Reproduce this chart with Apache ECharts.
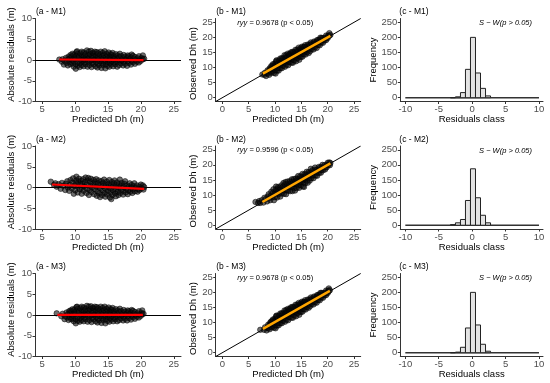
<!DOCTYPE html>
<html><head><meta charset="utf-8">
<script src="https://cdn.jsdelivr.net/npm/echarts@6/dist/echarts.min.js"></script>
<style>html,body{margin:0;padding:0;background:#fff}#c{width:550px;height:383px}</style>
</head><body><div id="c"></div>
<script>
// ---------- data ----------
const models = ['M1', 'M2', 'M3'];
const ryyValues = ['0.9678', '0.9596', '0.9678'];
const xTicksA = [5, 10, 15, 20, 25];
const yTicksA = [-10, -5, 0, 5, 10];
const ticksB = [0, 5, 10, 15, 20, 25];
const xTicksC = [-10, -5, 0, 5, 10];
const yTicksC = [0, 50, 100, 150, 200, 250];
const binCenters = [-2.875, -2.125, -1.375, -0.625, 0.125, 0.875, 1.625, 2.375];
const binWidth = 0.75;
const countsM1 = [0, 3, 17, 94, 200, 82, 31, 6];
const countsM2 = [2, 8, 19, 82, 187, 91, 33, 8];
const countsM3 = [0, 2, 18, 82, 200, 92, 28, 5];
const histRange = [-10, 10];
const redFitM1 = [[7.6, 0.12], [20.4, -0.05]];
const redFitM2 = [[6.5, 0.72], [20.5, -0.35]];
const redFitM3 = [[7.3, 0.02], [20.3, 0.02]];
const orangeFitM1 = [[7.7, 8.0], [20.5, 20.5]];
const orangeFitM2 = [[7.6, 7.7], [20.5, 20.5]];
const orangeFitM3 = [[7.7, 7.9], [20.4, 20.5]];
// [predicted Dh, residual]  (observed = predicted + residual)
const ptsM1 = [
[7.6,0.1],[8.0,-0.4],[8.1,0.2],[8.3,-1.1],[8.4,-0.2],[8.6,0.5],[8.7,-0.7],[8.9,-1.3],[8.9,0.1],[9.0,0.8],
[9.2,-0.5],[9.2,0.4],[9.3,1.2],[9.3,-1.0],[9.5,0.0],[9.6,-0.8],[9.5,0.9],[9.6,1.5],[9.8,-1.6],[9.8,-0.3],
[9.9,0.6],[9.9,1.3],[10.1,-2.1],[10.1,-1.0],[10.0,0.2],[10.2,1.0],[10.2,1.9],[10.4,-1.4],[10.4,-0.5],[10.5,0.5],
[10.4,1.5],[10.3,2.1],[10.7,-1.7],[10.7,-0.8],[10.8,0.0],[10.6,0.8],[10.8,1.6],[11.0,-1.2],[11.1,-0.3],[11.0,0.4],
[11.1,1.2],[11.0,2.0],[11.3,-1.5],[11.4,-0.6],[11.3,0.2],[11.4,1.0],[11.3,1.8],[11.6,-1.0],[11.6,0.0],[11.7,0.7],
[11.6,1.5],[11.8,2.3],[11.9,-1.6],[12.0,-0.4],[11.9,0.3],[12.0,1.1],[12.1,2.0],[12.2,-1.2],[12.3,-0.2],[12.2,0.6],
[12.3,1.4],[12.4,2.2],[12.5,-1.7],[12.6,-0.7],[12.5,0.1],[12.6,0.9],[12.7,1.7],[12.8,-1.0],[12.9,0.0],[12.8,0.8],
[12.9,1.5],[13.0,2.0],[13.1,-1.5],[13.2,-0.5],[13.1,0.3],[13.2,1.1],[13.3,1.9],[13.4,-1.8],[13.5,-0.9],[13.4,0.0],
[13.5,0.7],[13.5,1.6],[13.7,-1.3],[13.8,-0.3],[13.7,0.5],[13.8,1.3],[13.9,2.0],[14.0,-1.9],[14.1,-0.8],[14.0,0.1],
[14.1,0.9],[14.2,1.7],[14.3,-1.2],[14.4,-0.4],[14.3,0.4],[14.4,1.2],[14.5,2.1],[14.6,-2.0],[14.7,-1.0],[14.6,-0.1],
[14.7,0.7],[14.8,1.5],[14.9,-1.4],[15.0,-0.5],[14.9,0.3],[15.0,1.1],[15.1,1.8],[15.2,-1.6],[15.3,-0.7],[15.2,0.0],
[15.3,0.8],[15.4,1.4],[15.5,-1.1],[15.6,-0.3],[15.5,0.5],[15.6,1.2],[15.7,1.7],[15.8,-1.5],[15.9,-0.6],[15.8,0.2],
[15.9,0.9],[16.1,-1.0],[16.2,-0.2],[16.1,0.6],[16.2,1.4],[16.4,-1.6],[16.5,-0.5],[16.4,0.3],[16.5,1.1],[16.7,-1.2],
[16.8,-0.1],[16.7,0.7],[16.8,1.5],[17.0,-0.8],[17.1,0.0],[17.0,0.9],[17.3,-1.3],[17.4,-0.4],[17.3,0.4],[17.4,1.2],
[17.6,-0.9],[17.7,0.1],[17.6,0.8],[17.9,-1.4],[18.0,-0.3],[17.9,0.5],[18.0,1.1],[18.2,-0.7],[18.3,0.2],[18.2,0.9],
[18.5,-1.1],[18.6,-0.2],[18.5,0.6],[18.6,1.3],[18.8,-0.5],[18.9,0.3],[18.8,1.0],[19.1,-0.9],[19.2,0.0],[19.1,0.7],
[19.4,-0.4],[19.5,0.4],[19.7,-0.6],[19.8,0.1],[19.7,0.9],[20.0,-0.2],[20.1,0.5],[20.3,0.2],[20.3,1.1],[20.5,0.3]
];
const ptsM2 = [
[6.3,1.4],[6.8,0.6],[7.0,1.0],[7.2,0.2],[7.5,0.8],[7.8,-0.3],[8.0,1.1],[8.2,0.4],[8.5,-0.6],[8.6,0.9],
[8.8,1.5],[8.9,0.0],[9.1,-0.8],[9.2,0.6],[9.3,1.8],[9.5,-0.2],[9.6,1.2],[9.7,2.2],[9.8,-1.5],[9.9,0.4],
[10.0,-0.7],[10.1,1.0],[10.2,2.6],[10.2,1.7],[10.4,-1.2],[10.4,0.2],[10.5,1.3],[10.6,2.1],[10.7,-0.4],[10.8,0.7],
[10.9,1.6],[11.0,-1.5],[11.0,-0.1],[11.1,0.9],[11.2,2.0],[11.3,-0.8],[11.4,0.3],[11.5,1.3],[11.6,2.4],[11.7,-1.3],
[11.8,-0.3],[11.8,0.8],[11.9,1.7],[12.0,2.3],[12.1,-1.8],[12.2,-0.6],[12.3,0.4],[12.3,1.4],[12.4,2.1],[12.5,-1.1],
[12.6,0.0],[12.7,0.9],[12.8,1.8],[12.9,-1.6],[13.0,-0.4],[13.0,0.5],[13.1,1.3],[13.2,2.0],[13.3,-2.0],[13.4,-0.9],
[13.4,0.2],[13.5,1.0],[13.6,1.7],[13.7,-1.4],[13.8,-2.3],[13.8,-0.2],[13.9,0.7],[14.0,1.5],[14.1,-1.8],[14.2,-0.7],
[14.2,0.3],[14.3,1.1],[14.4,1.9],[14.5,-1.3],[14.6,-2.2],[14.6,-0.3],[14.7,0.6],[14.8,1.4],[14.9,-1.7],[15.0,-0.8],
[15.0,0.1],[15.1,0.9],[15.2,1.8],[15.3,-2.4],[15.4,-1.2],[15.4,-0.3],[15.5,-2.8],[15.5,0.5],[15.6,1.3],[15.7,-1.8],
[15.8,-0.7],[15.8,0.2],[15.9,1.0],[16.0,1.7],[16.1,-1.4],[16.2,-2.1],[16.2,-0.4],[16.3,0.5],[16.4,1.2],[16.5,-1.0],
[16.6,-1.8],[16.6,0.0],[16.7,0.8],[16.8,1.9],[16.9,-1.3],[17.0,-0.5],[17.0,0.4],[17.1,1.1],[17.3,-1.7],[17.3,-0.8],
[17.4,0.1],[17.5,0.9],[17.6,1.5],[17.7,-1.2],[17.8,-0.3],[17.9,0.5],[18.0,-1.6],[18.1,-0.7],[18.2,0.2],[18.3,1.0],
[18.4,-1.0],[18.5,-0.1],[18.6,0.6],[18.7,-1.3],[18.8,-0.5],[18.9,0.3],[19.0,1.0],[19.1,-0.9],[19.2,-0.1],[19.4,0.5],
[19.5,-1.0],[19.6,-0.4],[19.8,0.2],[19.8,-0.6],[20.0,0.7],[20.1,-0.2],[20.3,0.5],[20.4,-0.5],[20.5,0.1]
];
const ptsM3 = [
[7.2,0.4],[7.9,-0.3],[8.1,0.3],[8.4,-1.0],[8.5,-0.3],[8.7,0.6],[8.8,-0.6],[9.0,-1.2],[8.9,0.2],[9.1,0.9],
[9.2,-0.5],[9.2,0.4],[9.3,1.1],[9.4,-1.0],[9.5,0.0],[9.6,-0.8],[9.5,0.9],[9.6,1.4],[9.8,-1.5],[9.8,-0.3],
[9.9,0.6],[9.9,1.3],[10.1,-2.0],[10.1,-1.0],[10.0,0.2],[10.2,1.0],[10.2,1.9],[10.4,-1.4],[10.4,-0.5],[10.5,0.5],
[10.4,1.5],[10.3,2.0],[10.7,-1.6],[10.7,-0.8],[10.8,0.0],[10.6,0.8],[10.8,1.6],[11.0,-1.2],[11.1,-0.3],[11.0,0.4],
[11.1,1.2],[11.0,2.0],[11.3,-1.5],[11.4,-0.6],[11.3,0.2],[11.4,1.0],[11.3,1.8],[11.6,-1.0],[11.6,0.0],[11.7,0.7],
[11.6,1.5],[11.8,2.2],[11.9,-1.6],[12.0,-0.4],[11.9,0.3],[12.0,1.1],[12.1,2.0],[12.2,-1.2],[12.3,-0.2],[12.2,0.6],
[12.3,1.4],[12.4,2.1],[12.5,-1.7],[12.6,-0.7],[12.5,0.1],[12.6,0.9],[12.7,1.7],[12.8,-1.0],[12.9,0.0],[12.8,0.8],
[12.9,1.5],[13.0,2.0],[13.1,-1.5],[13.2,-0.5],[13.1,0.3],[13.2,1.1],[13.3,1.9],[13.4,-1.8],[13.5,-0.9],[13.4,0.0],
[13.5,0.7],[13.5,1.6],[13.7,-1.3],[13.8,-0.3],[13.7,0.5],[13.8,1.3],[13.9,2.0],[14.0,-1.9],[14.1,-0.8],[14.0,0.1],
[14.1,0.9],[14.2,1.7],[14.3,-1.2],[14.4,-0.4],[14.3,0.4],[14.4,1.2],[14.5,2.0],[14.6,-2.0],[14.7,-1.0],[14.6,-0.1],
[14.7,0.7],[14.8,1.5],[14.9,-1.4],[15.0,-0.5],[14.9,0.3],[15.0,1.1],[15.1,1.8],[15.2,-1.6],[15.3,-0.7],[15.2,0.0],
[15.3,0.8],[15.4,1.4],[15.5,-1.1],[15.6,-0.3],[15.5,0.5],[15.6,1.2],[15.7,1.7],[15.8,-1.5],[15.9,-0.6],[15.8,0.2],
[15.9,0.9],[16.1,-1.0],[16.2,-0.2],[16.1,0.6],[16.2,1.4],[16.4,-1.5],[16.5,-0.5],[16.4,0.3],[16.5,1.1],[16.7,-1.2],
[16.8,-0.1],[16.7,0.7],[16.8,1.5],[17.0,-0.8],[17.1,0.0],[17.0,0.9],[17.3,-1.3],[17.4,-0.4],[17.3,0.4],[17.4,1.2],
[17.6,-0.9],[17.7,0.1],[17.6,0.8],[17.9,-1.3],[18.0,-0.3],[17.9,0.5],[18.0,1.1],[18.2,-0.7],[18.3,0.2],[18.2,0.9],
[18.5,-1.1],[18.6,-0.2],[18.5,0.6],[18.6,1.2],[18.8,-0.5],[18.9,0.3],[18.8,1.0],[19.1,-0.9],[19.2,0.0],[19.1,0.7],
[19.4,-0.4],[19.5,0.4],[19.7,-0.6],[19.8,0.1],[19.7,0.9],[20.0,-0.2],[20.1,0.5],[20.2,0.2],[20.2,1.1],[20.4,0.3]
];
const pointsByModel = [ptsM1, ptsM2, ptsM3];
const countsByModel = [countsM1, countsM2, countsM3];
const redFits = [redFitM1, redFitM2, redFitM3];
const orangeFits = [orangeFitM1, orangeFitM2, orangeFitM3];

// ---------- layout ----------
const FAM = 'Liberation Sans, Arial, Helvetica, sans-serif';
const rowTop = [18.5, 146, 273.5];
const H = 83;
const colLeft = [35, 215.7, 400.3];
const colW = [146, 145, 142.7];
const xRange = [[3.9, 26.1], [-1.25, 26.25], [-10.75, 10.6]];
const yRange = [[-10, 10], [-1.25, 26.25], [-12.5, 262.5]];
const xTickSets = [xTicksA, ticksB, xTicksC];
const yTickSets = [yTicksA, ticksB, yTicksC];

const grids = [], xAxes = [], yAxes = [], series = [], graphics = [];
function axisBase(ticks) {
  return {
    type: 'value', splitLine: { show: false },
    axisLine: { show: true, onZero: false, lineStyle: { color: '#333', width: 1 } },
    axisTick: { show: true, length: 2.5, lineStyle: { color: '#333', width: 1 }, customValues: ticks },
    axisLabel: { color: '#4d4d4d', fontSize: 9.5, fontFamily: FAM, margin: 3, customValues: ticks }
  };
}
const ptStyle = { color: 'rgba(15,15,15,0.75)', borderColor: 'rgba(0,0,0,0.9)', borderWidth: 0.7 };

for (let r = 0; r < 3; r++) {
  for (let c = 0; c < 3; c++) {
    const gi = r * 3 + c;
    grids.push({ left: colLeft[c], top: rowTop[r], width: colW[c], height: H });
    xAxes.push(Object.assign(axisBase(xTickSets[c]), { gridIndex: gi, min: xRange[c][0], max: xRange[c][1] }));
    yAxes.push(Object.assign(axisBase(yTickSets[c]), { gridIndex: gi, min: yRange[c][0], max: yRange[c][1] }));
  }
  const pts = pointsByModel[r];
  const ga = r * 3, gb = r * 3 + 1, gc = r * 3 + 2;
  // (a) residuals
  series.push({
    type: 'scatter', xAxisIndex: ga, yAxisIndex: ga, symbolSize: 5.5, z: 3,
    data: pts.map(p => [p[0], p[1]]), itemStyle: ptStyle, silent: true,
    markLine: { silent: true, symbol: 'none', animation: false, z: 2, label: { show: false },
      lineStyle: { color: '#000', width: 1, type: 'solid' }, data: [{ yAxis: 0 }] }
  });
  series.push({ type: 'line', xAxisIndex: ga, yAxisIndex: ga, data: redFits[r], symbol: 'none', z: 5,
    lineStyle: { color: '#ff0000', width: 2.2 } });
  // (b) observed vs predicted
  series.push({ type: 'line', xAxisIndex: gb, yAxisIndex: gb, symbol: 'none', z: 2,
    data: [[xRange[1][0], xRange[1][0]], [xRange[1][1], xRange[1][1]]], lineStyle: { color: '#000', width: 1 } });
  series.push({
    type: 'scatter', xAxisIndex: gb, yAxisIndex: gb, symbolSize: 5.5, z: 3, silent: true,
    data: pts.map(p => [p[0], +(p[0] + p[1]).toFixed(2)]), itemStyle: ptStyle
  });
  series.push({ type: 'line', xAxisIndex: gb, yAxisIndex: gb, data: orangeFits[r], symbol: 'none', z: 5,
    lineStyle: { color: '#ffa500', width: 2.5 } });
  // (c) histogram
  series.push({ type: 'line', xAxisIndex: gc, yAxisIndex: gc, symbol: 'none', z: 2,
    data: [[histRange[0], 0], [histRange[1], 0]], lineStyle: { color: '#333', width: 1.5 } });
  series.push({
    type: 'custom', xAxisIndex: gc, yAxisIndex: gc, z: 3,
    data: binCenters.map((b, i) => [b, countsByModel[r][i]]),
    renderItem: function (params, api) {
      const x = api.value(0), n = api.value(1);
      const p0 = api.coord([x - binWidth / 2, n]);
      const p1 = api.coord([x + binWidth / 2, 0]);
      return { type: 'rect', shape: { x: p0[0], y: p0[1], width: p1[0] - p0[0], height: p1[1] - p0[1] },
        style: { fill: '#e3e3e3', stroke: '#222', lineWidth: 1 } };
    }
  });

  // texts
  const top = rowTop[r], bottom = rowTop[r] + H;
  const letters = ['a', 'b', 'c'];
  for (let c = 0; c < 3; c++) {
    graphics.push({ type: 'text', x: colLeft[c] + [1, 0.5, -1][c], y: top - 6.5,
      style: { text: '(' + letters[c] + ' - ' + models[r] + ')', fontSize: 8.5, fontFamily: FAM, fill: '#000',
        textAlign: 'left', textVerticalAlign: 'middle' } });
  }
  const xNames = ['Predicted Dh (m)', 'Predicted Dh (m)', 'Residuals class'];
  for (let c = 0; c < 3; c++) {
    graphics.push({ type: 'text', x: colLeft[c] + colW[c] / 2, y: bottom + 18,
      style: { text: xNames[c], fontSize: 9.5, fontFamily: FAM, fill: '#000', textAlign: 'center', textVerticalAlign: 'middle' } });
  }
  const yNames = ['Absolute residuals (m)', 'Observed Dh (m)', 'Frequency'];
  const yNameX = [11.5, 193.3, 373.5];
  const yNameOff = [36, 45, 41.5];
  for (let c = 0; c < 3; c++) {
    graphics.push({ type: 'text', x: yNameX[c], y: top + yNameOff[c], rotation: Math.PI / 2,
      style: { text: yNames[c], fontSize: 9.5, fontFamily: FAM, fill: '#000', textAlign: 'center', textVerticalAlign: 'middle' } });
  }
  graphics.push({ type: 'text', x: colLeft[1] + 21.6, y: top + 4,
    style: { text: '{i|ryy} = ' + ryyValues[r] + ' (p < 0.05)', fontSize: 7.5, fontFamily: FAM, fill: '#000',
      textAlign: 'left', textVerticalAlign: 'middle',
      rich: { i: { fontStyle: 'italic', fontSize: 7.5, fontFamily: FAM, fill: '#000' } } } });
  graphics.push({ type: 'text', x: 532, y: top + 4.8,
    style: { text: 'S \u2212 W(p > 0.05)', fontSize: 7.5, fontStyle: 'italic', fontFamily: FAM, fill: '#000',
      textAlign: 'right', textVerticalAlign: 'middle' } });
}

const chart = echarts.init(document.getElementById('c'), null, { renderer: 'canvas' });
chart.setOption({
  animation: false, backgroundColor: '#fff',
  grid: grids, xAxis: xAxes, yAxis: yAxes, series: series, graphic: graphics
});
</script></body></html>
